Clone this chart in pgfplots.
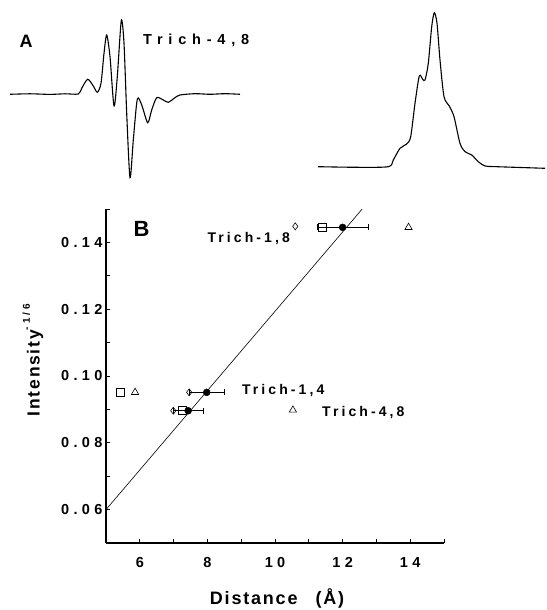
\documentclass[border=0pt]{standalone}
\usepackage{fontspec}
\setmainfont{Liberation Sans}
\newfontfamily\ticksf[LetterSpace=30]{Liberation Sans}
\newfontfamily\labsf[LetterSpace=22]{Liberation Sans}
\newfontfamily\labAsf[LetterSpace=40]{Liberation Sans}
\newfontfamily\axsf[LetterSpace=10]{Liberation Sans}
\usepackage{pgfplots}
\pgfplotsset{compat=1.18}
\begin{document}
\begin{tikzpicture}
\useasboundingbox (0pt,0pt) rectangle (546pt,610pt);
% ---------- Panel A: derivative spectrum ----------
\begin{axis}[at={(10pt,426pt)}, anchor=south west, scale only axis,
  width=230pt, height=170pt, xmin=0, xmax=230, ymin=-90, ymax=80,
  hide axis, clip=false]
\addplot[black, line width=1.1pt, smooth, tension=0.45] coordinates {
(0,-0.3) (20,0.2) (40,-0.4) (55,0.2) (68.3,0) (71.7,5.7) (77.7,14.7) (83.3,8) (87.3,1.7)
(91,10.7) (94,40.7) (96.7,59) (100,37.3) (104,-12) (107.3,17.3) (111.3,73.3)
(114,50.7) (116.7,-19.3) (120,-83.7) (123.3,-46) (127.3,-5.3) (131.7,-11)
(137.7,-28.7) (141.7,-16) (146.7,-3.7) (153.3,-6) (158.3,-8.3) (165,-3.7)
(170,-1) (185,0.3) (200,-0.3) (215,0.3) (230,-0.3)};
\end{axis}
% ---------- Panel A: absorption spectrum ----------
\begin{axis}[at={(318pt,443pt)}, anchor=south west, scale only axis,
  width=227pt, height=160pt, xmin=0, xmax=227, ymin=0, ymax=160,
  hide axis, clip=false]
\addplot[black, line width=1.1pt, smooth, tension=0.45] coordinates {
(0,0.3) (38.7,-0.3) (70.3,0.3) (75.3,7) (82,18.7) (88.7,23) (92.7,30.3)
(97,63.7) (101.3,91) (104.7,87.7) (107,87) (110.3,103.7) (113.7,140.3)
(116.3,154.3) (119,143.7) (122,107) (126,70.3) (131.3,61) (136,50.3)
(142,23.7) (147,15.3) (153.7,12) (160.3,5.3) (167,1) (178.7,0.3) (227,-1.3)};
\end{axis}
\node at (26pt,569pt) {\fontsize{18}{18}\selectfont\bfseries A};
\node[anchor=west, inner sep=0pt] at (143pt,569.5pt) {\labAsf\bfseries\fontsize{14.5}{14.5}\selectfont Trich-4,8};
% ---------- Panel B ----------
\begin{axis}[at={(106pt,67pt)}, anchor=south west, scale only axis,
  width=338pt, height=334pt,
  xmin=5, xmax=15, ymin=0.05, ymax=0.15,
  axis lines=left, axis line style={line width=1.6pt, -},
  tick align=inside,
  xtick={6,8,10,12,14}, minor xtick={5,7,9,11,13,15},
  ytick={0.06,0.08,0.10,0.12,0.14}, minor ytick={0.05,0.07,0.09,0.11,0.13,0.15},
  major tick length=4pt, minor tick length=4pt,
  tick style={black, line width=0.8pt},
  /pgf/number format/assume math mode=true,
  ticklabel style={font=\ticksf\bfseries\fontsize{14.5}{14.5}\selectfont},
  xticklabel style={yshift=-11pt},
  yticklabel style={/pgf/number format/.cd, fixed, fixed zerofill, precision=2},
  xlabel={\axsf\bfseries\fontsize{18}{18}\selectfont Distance\quad (Å)},
  x label style={at={(axis description cs:0.506,-0.165)}, anchor=center},
  ylabel={\axsf\bfseries\fontsize{17.5}{17.5}\selectfont Intensity\raisebox{0.55em}{\fontsize{10}{10}\selectfont\ticksf -1/6}},
  y label style={at={(axis description cs:-0.216,0.548)}, anchor=center},
  clip=false]
\addplot[black, line width=0.6pt] coordinates {(5,0.06) (12.58,0.15)};
\addplot[only marks, mark=*, mark size=3.5pt, black,
  error bars/.cd, x dir=both, x explicit, error mark=|,
  error bar style={line width=0.6pt}, error mark options={mark size=3pt, line width=0.6pt}]
  coordinates {(12.0,0.1445) +- (0.76,0) (7.98,0.0951) +- (0.53,0) (7.43,0.0896) +- (0.45,0)};
\addplot[only marks, mark=square, mark size=4pt, black, mark options={line width=0.6pt}]
  coordinates {(11.41,0.1445) (5.41,0.0951) (7.26,0.0896)};
\addplot[only marks, mark=diamond, mark size=3.5pt, black, mark options={line width=0.6pt}]
  coordinates {(10.6,0.1448) (7.46,0.0951) (6.99,0.0896)};
\addplot[only marks, mark=triangle, mark size=4.2pt, black, mark options={line width=0.6pt}]
  coordinates {(13.95,0.1445) (5.86,0.0951) (10.53,0.0898)};
\node[anchor=west, inner sep=0pt] at (axis cs:8.0,0.1412) {\labsf\bfseries\fontsize{14}{14}\selectfont Trich-1,8};
\node[anchor=west, inner sep=0pt] at (axis cs:9.02,0.0958) {\labsf\bfseries\fontsize{14}{14}\selectfont Trich-1,4};
\node[anchor=west, inner sep=0pt] at (axis cs:11.39,0.0890) {\labsf\bfseries\fontsize{14}{14}\selectfont Trich-4,8};
\node at (axis cs:6.05,0.1439) {\fontsize{22}{22}\selectfont\bfseries B};
\end{axis}
\end{tikzpicture}
\end{document}
